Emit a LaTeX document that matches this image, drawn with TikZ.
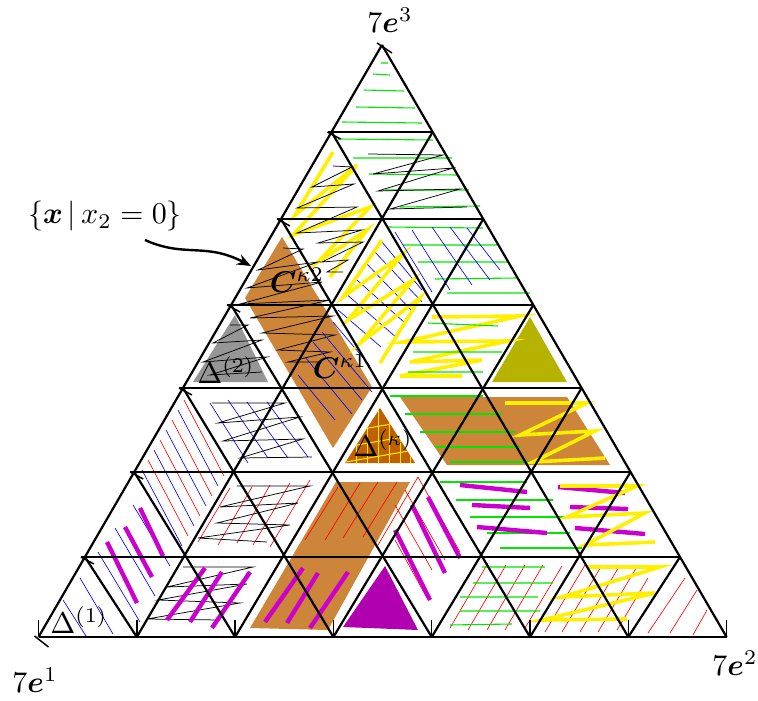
\documentclass[tikz,border=0pt]{standalone}
\usepackage{amsmath,bm}
\usetikzlibrary{arrows.meta}
\definecolor{cbrown}{RGB}{205,133,58}
\definecolor{cdk}{RGB}{192,96,0}
\definecolor{colive}{RGB}{182,178,0}
\definecolor{cgray}{RGB}{150,150,150}
\definecolor{cmag}{RGB}{204,0,204}
\definecolor{cmagf}{RGB}{176,0,176}
\definecolor{cgreen}{RGB}{0,230,0}
\definecolor{cyel}{RGB}{255,240,0}
\begin{document}
\begin{tikzpicture}[x=1pt,y=-1pt,
  grid/.style={line width=2.2pt, black},
  barb/.style={line width=1.5pt, black},
  gl/.style={cgreen, line width=1.1pt},
  bl/.style={blue, line width=0.65pt},
  rl/.style={red, line width=0.65pt},
  yl/.style={cyel, line width=3.6pt},
  ml/.style={cmag, line width=4.4pt},
  kz/.style={black, line width=0.75pt},
  lab/.style={inner sep=0pt, scale=3.0}]
\useasboundingbox (0,0) rectangle (758,701);
% lattice points
\foreach \j/\y in {0/637,1/557,2/472,3/388,4/305,5/219,6/132,7/45}{
  \pgfmathsetmacro\xl{38.5+(637-\y)*0.5802}
  \pgfmathsetmacro\xr{726.6-(637-\y)*0.5821}
  \pgfmathtruncatemacro\n{7-\j}
  \pgfmathsetmacro\st{(\xr-\xl)/max(\n,1)}
  \foreach \i in {0,...,\n}{\coordinate (p\i-\j) at ({\xl+\st*\i},\y);}
}
% ---------- fills ----------
\fill[cbrown] (282,237)--(372,387)--(333,448)--(245,298)--cycle;
\fill[cbrown] (400,397)--(567,397)--(610,465)--(447,465)--cycle;
\fill[cbrown] (250,628)--(328,630)--(410,482)--(336,482)--cycle;
\fill[cgray] (235,315)--(268,382)--(193,382)--cycle;
\fill[colive] (530,317)--(567,382)--(492,382)--cycle;
\fill[cmagf] (385,566)--(418,630)--(343,627)--cycle;
\fill[cdk] (380,408)--(415,463)--(345,463)--cycle;
\begin{scope}
\clip (380,408)--(415,463)--(345,463)--cycle;
\foreach \x in {356,367,378,389,400,410}{\draw[cyel,line width=1pt] (\x,400)--(\x,470);}
\foreach \y in {425,440,455}{\draw[cyel,line width=1pt] (340,\y+8)--(420,\y-6);}
\end{scope}
% ---------- top triangle: green ----------
\draw[gl] (381,63)--(388,63) (373,74)--(390,75) (364,90)--(404,91) (356,107)--(415,108) (342,122)--(422,123);
% D(0,5)+U(1,5)
\draw[gl] (338,139)--(433,140) (353,158)--(452,158) (369,174)--(457,175) (385,190)--(469,190) (400,207)--(480,206);
\draw[kz] (368,154)--(443,155)--(373,174)--(453,168)--(378,191)--(460,189)--(390,209)--(467,207);
% U(0,5)+D(0,4)
\draw[yl] (333,152)--(295,215)--(357,165)--(293,235)--(370,207)--(318,262)--(367,230)--(330,277);
\draw[kz] (333,166)--(352,167)--(312,187)--(354,184)--(297,208)--(357,207)--(297,233)--(362,230)--(318,243)--(363,242)--(322,262)--(348,260)--(327,272)--(343,272);
% C region
\draw[kz] (283,248)--(303,249)--(258,270)--(318,262)--(247,288)--(322,282)--(240,304)--(330,300)--(250,318)--(333,316)--(262,333)--(335,335)--(278,350)--(330,352)--(288,362)--(318,362);
\draw[bl] (298,375)--(335,420) (305,357)--(352,414) (313,342)--(362,400) (322,332)--(372,392) (333,322)--(370,366);
% gray Delta(2) zigzag
\draw[kz] (230,325)--(248,325)--(213,343)--(262,340)--(203,362)--(267,357)--(210,375)--(262,372);
% U(1,4)+D(1,3)
\draw[bl] (382,242)--(422,290) (373,250)--(422,302) (365,262)--(413,312) (357,280)--(405,323) (345,293)--(397,338) (338,310)--(381,347);
\draw[yl] (382,240)--(343,297)--(402,255)--(348,320)--(413,280)--(360,343)--(420,298)--(380,363);
% D(1,4)+U(2,4)
\draw[gl] (387,227)--(483,228) (403,245)--(497,245) (418,262)--(507,262) (435,279)--(517,278) (447,293)--(530,293);
\draw[bl] (395,232)--(432,292) (412,230)--(450,290) (432,227)--(472,285) (450,227)--(490,280) (467,228)--(500,270);
% U(2,3)+D(2,3)
\draw[yl] (432,317)--(520,316)--(403,342)--(508,341)--(410,362)--(482,360)--(400,376)--(462,376);
\draw[gl] (428,323)--(498,326) (413,352)--(502,352) (408,372)--(483,372);
% brown row 2 region
\draw[gl] (390,396)--(483,396) (405,414)--(502,414) (420,432)--(515,432) (435,447)--(520,447) (450,462)--(530,462);
\draw[yl] (505,403)--(587,403)--(520,435)--(595,431)--(533,462)--(605,458);
% U(0,2) and below: red / blue
\foreach \k in {0,...,7}{
  \pgfmathtruncatemacro\odd{mod(\k,2)}
  \ifnum\odd=0 \draw[rl] ({184-6*\k},{400+10*\k}) -- ++(40,76);
  \else \draw[bl] ({184-6*\k},{400+10*\k}) -- ++(40,76); \fi}
% D(0,2)+U(1,2)
\draw[bl] (210,403)--(248,463) (228,400)--(268,458) (247,402)--(288,458) (267,402)--(308,457);
\draw[kz] (212,403)--(285,403)--(218,423)--(300,417)--(223,441)--(303,439)--(240,458)--(312,457);
% D(0,1)+U(1,1)
\draw[rl] (198,542)--(230,488) (218,545)--(252,487) (237,543)--(270,485) (253,545)--(290,483) (270,547)--(310,480);
\draw[kz] (237,486)--(310,486)--(220,507)--(298,503)--(217,523)--(290,525)--(198,538)--(267,542);
% U(0,0), D(0,0), U(0,1)
\draw[bl] (63,600)--(86,636) (80,578)--(113,634) (98,552)--(140,622) (115,528)--(155,596) (133,505)--(170,566);
\draw[ml] (107,542)--(137,603) (125,527)--(152,577) (140,508)--(163,556);
% U(1,0)+D(1,0)
\draw[kz] (183,567)--(253,567)--(167,587)--(247,584)--(158,600)--(240,603)--(147,619)--(220,620);
\draw[ml] (167,620)--(205,568) (190,622)--(222,572) (212,628)--(250,572);
% big brown lower
\draw[rl] (305,540)--(338,487) (325,540)--(360,483) (343,538)--(378,482) (363,537)--(397,482) (378,545)--(418,477);
\draw[ml] (265,622)--(303,568) (287,623)--(318,573) (310,628)--(348,572);
% U(3,1)+D(3,0)
\draw[rl] (418,477)--(460,552) (405,490)--(445,560) (395,505)--(432,570) (395,540)--(427,598);
\draw[ml] (395,530)--(430,600) (412,505)--(445,573) (428,497)--(460,558);
% D(3,1)+U(4,1)
\draw[gl] (440,482)--(527,482) (456,500)--(553,500) (470,517)--(570,517) (487,533)--(570,533) (500,548)--(582,548);
\draw[ml] (460,485)--(527,492) (472,505)--(530,508) (477,527)--(547,533);
% D(4,1)+U(5,1)
\draw[ml] (558,487)--(625,493) (570,507)--(628,509) (575,528)--(645,534);
\draw[yl] (560,486)--(637,486)--(567,517)--(645,513)--(585,545)--(655,542);
% U(4,0)+D(4,0)
\draw[rl] (450,628)--(488,563) (468,630)--(506,565) (487,630)--(525,565) (505,630)--(543,565) (525,628)--(562,566);
\draw[gl] (482,567)--(545,567) (473,583)--(553,583) (460,597)--(538,597) (460,611)--(540,611) (450,625)--(512,624);
% U(5,0)+D(5,0)
\draw[rl] (545,632)--(585,565) (562,632)--(602,565) (580,632)--(620,565) (598,632)--(638,565) (617,630)--(648,578);
\draw[yl] (587,567)--(660,567)--(562,597)--(655,593)--(542,620)--(627,619);
% U(6,0)
\draw[rl] (648,633)--(685,578) (670,633)--(697,590) (693,635)--(707,610);
% ---------- grid ----------
\foreach \j in {1,...,6}{\pgfmathtruncatemacro\n{7-\j}
  \draw[grid] ([xshift=-4pt]p0-\j) -- (p\n-\j);
  \draw[barb] ([xshift=-4pt]p0-\j) -- ++(13,7);}
\draw[grid] (p0-0) -- (p7-0);
\foreach \i in {0,...,6}{\pgfmathtruncatemacro\n{7-\i}\draw[grid] (p\i-0) -- (p\i-\n);}
\foreach \k in {1,...,7}{\draw[grid] (p\k-0) -- (p0-\k);}
\foreach \i in {0,...,7}{\draw[barb] (p\i-0) -- ++(0,-17);}
\draw[barb] (p0-0) ++(-4,-1) -- ++(14,11);
\draw[barb] (p0-7) ++(-5,-2) -- ++(15,10);
% ---------- labels ----------
\node[lab] (e3) at (390,20) {$7\bm{e}^3$};
\node[lab] (e1) at (35,680) {$7\bm{e}^1$};
\node[lab] (e2) at (735,663) {$7\bm{e}^2$};
\node[lab] (set) at (105,216) {$\{\bm{x}\,|\,x_2=0\}$};
\node[lab] (C2) at (297,280) {$\bm{C}^{\kappa2}$};
\node[lab] (C1) at (340,366) {$\bm{C}^{\kappa1}$};
\node[lab] (D2) at (226,370) {$\Delta^{(2)}$};
\node[lab] (D1) at (79,620) {$\Delta^{(1)}$};
\node[lab] (Dk) at (383,443) {$\Delta^{(\kappa)}$};
\coordinate (as) at (145,240);
\coordinate (ae) at (251,266);
\draw[line width=2.4pt, -{Stealth[length=14pt,width=11pt]}] (as) .. controls (185,258) and (205,242) .. (ae);
\end{tikzpicture}
\end{document}
